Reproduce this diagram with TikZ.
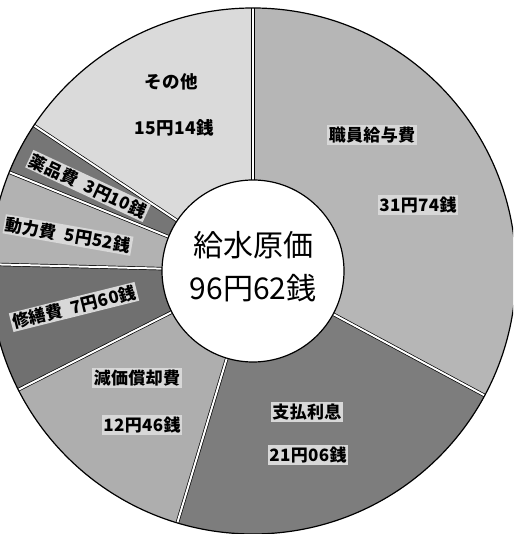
\documentclass[tikz,border=0pt]{standalone}
\usepackage{fontspec}
\setmainfont{Noto Sans CJK JP}
\newfontfamily\tagfont[LetterSpace=2]{Noto Sans CJK JP}
\usetikzlibrary{calc, positioning}
\definecolor{othergray}{RGB}{218,218,218}
\definecolor{salarygray}{RGB}{182,182,182}
\definecolor{interestgray}{RGB}{125,125,125}
\definecolor{deprgray}{RGB}{174,174,174}
\definecolor{repairgray}{RGB}{112,112,112}
\definecolor{powergray}{RGB}{178,178,178}
\definecolor{chemgray}{RGB}{118,118,118}
\definecolor{labelgray}{RGB}{216,216,216}

\tikzset{
    costtag/.style={fill=labelgray, inner sep=1.5pt, font=\tagfont\bfseries\fontsize{17}{18}\selectfont},
    plaintag/.style={inner sep=1.5pt, font=\tagfont\bfseries\fontsize{17.5}{18}\selectfont},
    totaltext/.style={inner sep=0pt, font=\fontsize{30}{30}\selectfont},
    gapline/.style={line width=2pt, white}
}

\begin{document}
\begin{tikzpicture}[x=1pt, y=1pt]
    \useasboundingbox (0,0) rectangle (513,534);
    \coordinate (O) at (253,263);
    
    \begin{scope}
        \clip (0,0) rectangle (513,534);
        % Wedges (clockwise from the top)
        \fill[salarygray] (O) -- ++(90:263) arc (90:-28.26:263) -- cycle;
        \fill[interestgray] (O) -- ++(-28.26:263) arc (-28.26:-106.73:263) -- cycle;
        \fill[deprgray] (O) -- ++(-106.73:263) arc (-106.73:-153.16:263) -- cycle;
        \fill[repairgray] (O) -- ++(-153.16:263) arc (-153.16:-181.48:263) -- cycle;
        \fill[powergray] (O) -- ++(178.52:263) arc (178.52:157.95:263) -- cycle;
        \fill[chemgray] (O) -- ++(157.95:263) arc (157.95:146.4:263) -- cycle;
        \fill[othergray] (O) -- ++(146.4:263) arc (146.4:90:263) -- cycle;
        
        % Separators
        \foreach \a in {90, -28.26, -106.73, -153.16, 178.52, 157.95, 146.4} {
            \draw[line width=3.4pt] (O) -- ($(O)+(\a:263)$);
            \draw[gapline] (O) -- ($(O)+(\a:263)$);
        }
        
        % Outline
        \draw[line width=1.2pt] (O) circle (263);
    \end{scope}
    
    % Centre
    \node[circle, draw, line width=1.2pt, fill=white, minimum size=182pt, inner sep=0pt] (hub) at (O) {};
    \node[totaltext] (totalname) at (253,289) {給水原価};
    \node[totaltext] (totalvalue) at (253,246) {96円62銭};
    
    % Labels
    \node[plaintag] (othername) at (171,452) {その他};
    \node[plaintag] (othervalue) at (174,406) {15円14銭};
    \node[costtag] (salaryname) at (372,399) {職員給与費};
    \node[costtag] (salaryvalue) at (418,329) {31円74銭};
    \node[costtag] (interestname) at (307,122) {支払利息};
    \node[costtag] (interestvalue) at (308,79) {21円06銭};
    \node[costtag] (deprname) at (137,156) {減価償却費};
    \node[costtag] (deprvalue) at (142,109) {12円46銭};
    \node[costtag, rotate=14] (repairlabel) at (74,227) {修繕費\enspace 7円60銭};
    \node[costtag, rotate=-10] (powerlabel) at (68,299) {動力費\enspace 5円52銭};
    \node[costtag, rotate=-25] (chemlabel) at (88,348) {薬品費\enspace 3円10銭};
\end{tikzpicture}
\end{document}
